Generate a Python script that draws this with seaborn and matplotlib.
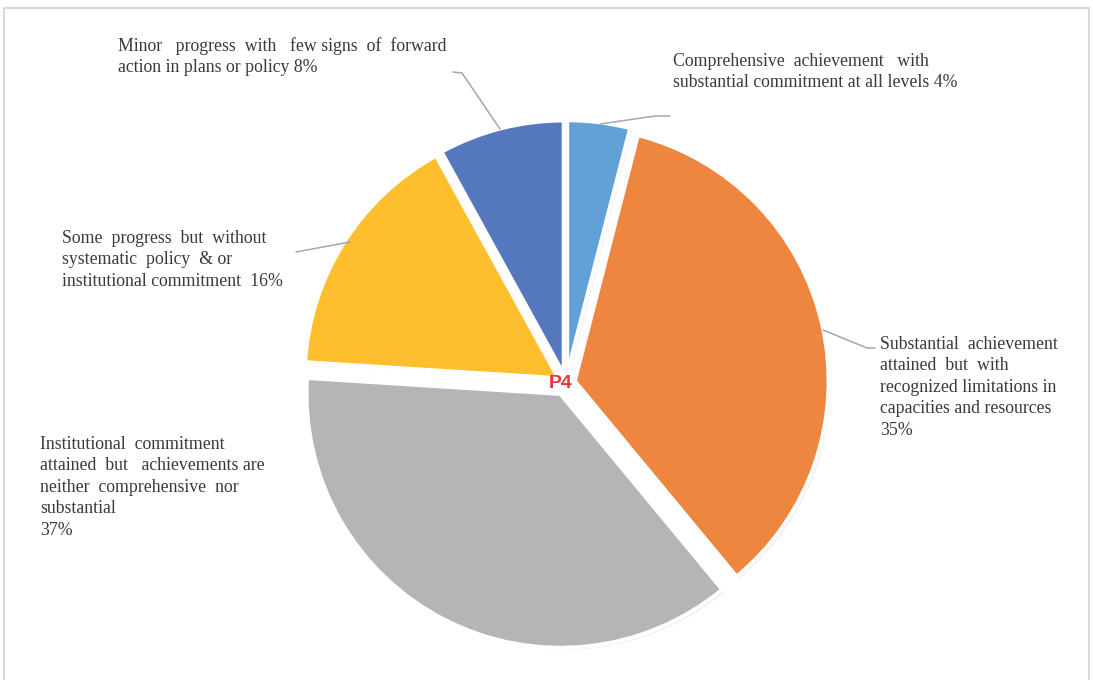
import matplotlib
matplotlib.use("Agg")
import matplotlib.pyplot as plt
import matplotlib.patheffects as pe
import seaborn as sns

# ---- data ----
labels = [
    "Comprehensive  achievement   with\nsubstantial commitment at all levels 4%",
    "Substantial  achievement\nattained  but  with\nrecognized limitations in\ncapacities and resources\n35%",
    "Institutional  commitment\nattained  but   achievements are\nneither  comprehensive  nor\nsubstantial\n37%",
    "Some  progress  but  without\nsystematic  policy  & or\ninstitutional commitment  16%",
    "Minor   progress  with   few signs  of  forward\naction in plans or policy 8%",
]
values = [4, 35, 37, 16, 8]
colors = ["#62A0D8", "#EE8640", "#B4B5B7", "#FDBF2E", "#5477BD"]
explode = [0.035, 0.035, 0.048, 0.035, 0.035]
center_label = "P4"

# ---- layout (pixel coordinates, origin top-left) ----
W, H = 1093, 680
cx, cy, R = 566, 383, 254
text_pos = [(673, 53), (880, 336), (40, 436), (62, 230), (118, 37)]
leaders = [
    [(600, 124), (655, 116), (670, 116)],
    [(823, 330), (867, 348), (875, 348)],
    None,
    [(350, 242), (296, 252)],
    [(500, 129), (462, 73), (453, 72)],
]

sns.set_theme(style="white")
plt.rcParams["font.family"] = ["Liberation Serif", "DejaVu Serif"]

fig = plt.figure(figsize=(W / 100, H / 100), dpi=100)
ax = fig.add_axes([0, 0, 1, 1])


def fy(y):
    return H - y


wedges, _ = ax.pie(
    values,
    colors=colors,
    startangle=90,
    counterclock=False,
    explode=[e * R for e in explode],
    center=(cx, fy(cy)),
    radius=R,
    wedgeprops=dict(edgecolor="white", linewidth=3),
)
for w in wedges:
    w.set_path_effects([
        pe.SimplePatchShadow(offset=(1.5, -1.5), shadow_rgbFace="0.6", alpha=0.25),
        pe.Normal(),
    ])

ax.set_xlim(0, W)
ax.set_ylim(0, H)
ax.set_aspect("equal")
ax.axis("off")

for lab, (tx, ty), ld in zip(labels, text_pos, leaders):
    if ld is not None:
        ax.plot([p[0] for p in ld], [fy(p[1]) for p in ld],
                color="#A6A6A6", lw=1.1, zorder=5)
    ax.text(tx, fy(ty), lab, ha="left", va="top", fontsize=12.8,
            color="#3A3A3A", linespacing=1.34, zorder=6)

ax.text(cx - 5, fy(cy + 1), center_label, ha="center", va="center",
        fontsize=14, fontweight="bold", color="#E8333C",
        family=["Liberation Sans", "DejaVu Sans"], zorder=7)

frame_c = "#D9D9D9"
ax.plot([3.5, 3.5, 1089, 1089], [fy(H + 5), fy(8), fy(8), fy(H + 5)],
        color=frame_c, lw=1.5, zorder=1, clip_on=False)

fig.savefig("out.png", dpi=100, facecolor="white")
